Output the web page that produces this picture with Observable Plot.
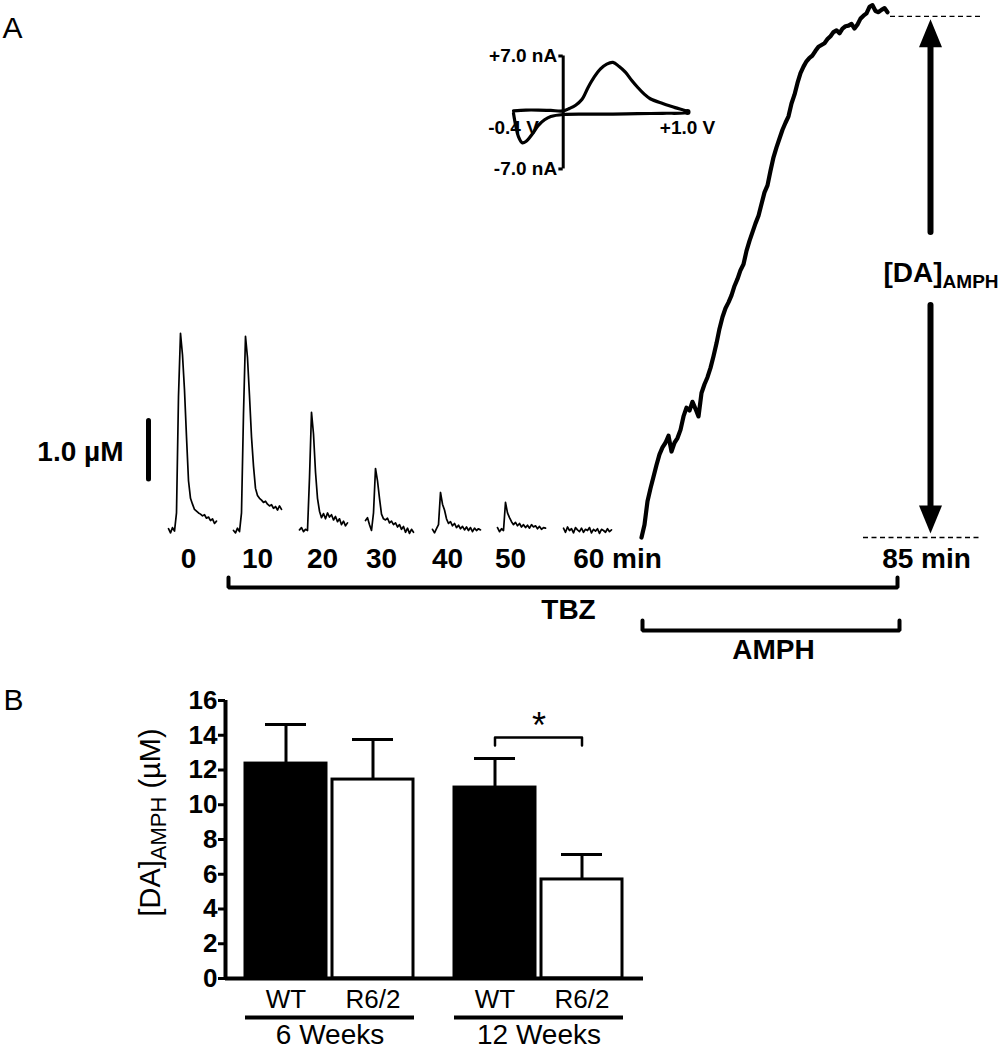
<!DOCTYPE html>
<html>
<head>
<meta charset="utf-8">
<script src="https://cdn.jsdelivr.net/npm/d3@7"></script>
<script src="https://cdn.jsdelivr.net/npm/@observablehq/plot@0.6"></script>
<style>
  html, body { margin: 0; padding: 0; background: #fff; }
  #fig { position: relative; width: 1000px; height: 1050px; overflow: hidden; background: #fff; }
  #fig svg { position: absolute; overflow: visible; max-width: none; }
</style>
</head>
<body>
<div id="fig"></div>
<script>
// ===================== DATA =====================
// Panel A: evoked DA release traces (µM) recorded at these times (min) during TBZ
const traceTimes = [0, 10, 20, 30, 40, 50, 60];
const trace0  = [0.03, -0.04, 0.05, -0.01, 0.3, 2.3, 3.37, 3.0, 2.4, 1.6, 0.85, 0.55, 0.45, 0.36, 0.33, 0.3, 0.28, 0.25, 0.27, 0.21, 0.23, 0.17, 0.2, 0.12, 0.16];
const trace10 = [0.0, -0.04, 0.04, -0.02, 0.3, 2.0, 3.32, 2.95, 2.3, 1.6, 1.1, 0.72, 0.6, 0.55, 0.52, 0.48, 0.5, 0.45, 0.42, 0.44, 0.38, 0.41, 0.35, 0.42, 0.36];
const trace20 = [0.01, 0.05, -0.02, 0.02, 0.0, 0.9, 2.02, 1.65, 1.0, 0.55, 0.33, 0.22, 0.29, 0.2, 0.3, 0.23, 0.27, 0.18, 0.24, 0.15, 0.2, 0.1, 0.16, 0.08, 0.13];
const trace30 = [0.17, 0.22, 0.1, 0.0, 0.3, 1.06, 0.85, 0.55, 0.28, 0.2, 0.18, 0.21, 0.13, 0.16, 0.1, 0.13, 0.06, 0.1, 0.02, 0.07, -0.03, 0.04, -0.05, 0.02, -0.03];
const trace40 = [0.02, -0.04, 0.03, 0.1, 0.65, 0.45, 0.35, 0.2, 0.12, 0.15, 0.08, 0.12, 0.05, 0.09, 0.03, 0.07, 0.01, 0.06, 0.0, 0.05, -0.02, 0.04, 0.0, 0.03, 0.01];
const trace50 = [0.05, -0.02, 0.03, 0.0, 0.48, 0.3, 0.22, 0.15, 0.1, 0.14, 0.08, 0.12, 0.06, 0.1, 0.05, 0.09, 0.04, 0.1, 0.06, 0.08, 0.03, 0.07, 0.02, 0.05, 0.04];
const trace60 = [0.04, -0.03, 0.06, 0.0, 0.03, -0.04, 0.05, 0.01, -0.02, 0.04, -0.03, 0.02, 0.0, 0.05, -0.04, 0.02, -0.01, 0.03, -0.05, 0.02, 0.0, -0.03, 0.03, -0.02, 0.01];
// AMPH-induced DA efflux (µM), sampled evenly from 60 to 85 min
const amphStartMin = 60, amphEndMin = 85;
const amphTrace = [-0.12, 0.1, 0.5, 0.72, 0.92, 1.12, 1.3, 1.42, 1.5, 1.62,
  1.35, 1.5, 1.58, 1.72, 1.95, 2.1, 2.05, 2.2, 2.08, 1.95,
  2.35, 2.5, 2.62, 2.78, 2.98, 3.2, 3.45, 3.65, 3.8, 3.9,
  4.02, 4.18, 4.3, 4.45, 4.55, 4.78, 4.95, 5.1, 5.25, 5.38,
  5.58, 5.78, 5.9, 6.15, 6.38, 6.55, 6.7, 6.85, 6.97, 7.08,
  7.3, 7.45, 7.65, 7.82, 7.93, 8.02, 8.08, 8.12, 8.2, 8.27,
  8.3, 8.33, 8.4, 8.45, 8.52, 8.55, 8.5, 8.58, 8.62, 8.63,
  8.66, 8.58, 8.65, 8.75, 8.8, 8.84, 8.95, 8.98, 8.88, 8.86,
  8.9, 8.93, 8.86];
const amphPlateau = 8.79;   // [DA]AMPH top level (µM)
const amphBaseline = -0.12; // [DA]AMPH bottom level (µM)
const scaleBarUM = 1.0;
const timeLabels = ["0", "10", "20", "30", "40", "50", "60 min", "85 min"];
const treatments = ["TBZ", "AMPH"];
const daLabel = "[DA]AMPH";

// Inset: cyclic voltammogram (V, nA)
const cvForwardV = [-0.4, -0.3, -0.2, -0.1, 0, 0.05, 0.1, 0.15, 0.2, 0.25, 0.3, 0.35, 0.4, 0.45, 0.5, 0.55, 0.6, 0.65, 0.7, 0.8, 0.9, 1.0];
const cvForwardI = [0.2, 0.3, 0.3, 0.25, 0.2, 0.5, 0.9, 1.6, 3.1, 4.4, 5.4, 6.0, 6.2, 5.7, 5.0, 4.0, 3.1, 2.3, 1.7, 1.1, 0.6, 0.1];
const cvReverseV = [1.0, 0.8, 0.6, 0.4, 0.2, 0, -0.1, -0.15, -0.2, -0.25, -0.3, -0.33, -0.36, -0.38, -0.4];
const cvReverseI = [0.0, -0.1, -0.15, -0.2, -0.2, -0.25, -0.5, -0.9, -1.6, -2.7, -3.6, -3.75, -3.0, -1.8, -0.1];
const cvCurrentLabels = ["+7.0 nA", "-7.0 nA"];
const cvCurrentTicks = [7, -7];
const cvPotentialLabels = ["-0.4 V", "+1.0 V"];
const cvPotentialTicks = [-0.4, 1.0];

// Panel B: [DA]AMPH (µM), mean ± SEM
const groups = ["6 Weeks", "12 Weeks"];
const genotypes = ["WT", "R6/2"];
const means = [12.37, 11.45, 10.99, 5.70];
const sems  = [2.25, 2.31, 1.67, 1.44];
const yTicksB = [0, 2, 4, 6, 8, 10, 12, 14, 16];
const yLabelB = "[DA]AMPH (µM)";
const sigGroup = "12 Weeks", sigPair = ["WT", "R6/2"], sigLevel = 13.87, sigText = "*";

// ===================== LAYOUT =====================
const FONT = '"Liberation Sans", Arial, Helvetica, sans-serif';
const fig = document.getElementById("fig");
function place(svg, left, top) {
  svg.style.left = left + "px";
  svg.style.top = top + "px";
  fig.appendChild(svg);
}
function subscriptify(svg, full, main, sub, rest, subSize, shift) {
  const ns = "http://www.w3.org/2000/svg";
  svg.querySelectorAll("text").forEach(t => {
    if (t.textContent === full) {
      t.textContent = "";
      const a = document.createElementNS(ns, "tspan"); a.textContent = main; t.appendChild(a);
      const b = document.createElementNS(ns, "tspan"); b.textContent = sub;
      b.setAttribute("font-size", subSize); b.setAttribute("dy", shift); t.appendChild(b);
      if (rest) {
        const c = document.createElementNS(ns, "tspan"); c.textContent = rest;
        c.setAttribute("dy", -shift); t.appendChild(c);
      }
    }
  });
}

// ---------- Panel A ----------
const A_H = 670, BASE_PX = 530, PX_PER_UM = 58.5;
const yA = p => (BASE_PX - p) / PX_PER_UM;     // layout pixel -> µM
const traceStartPx = [168, 233, 299, 365, 432, 497, 563];
const traceStepPx = 2;
const amphStartPx = 641, amphEndPx = 887;
const timeLabelPx = [188, 257, 322, 381, 447, 510, 617, 926];
const bracketLayout = [
  {x1: 228, x2: 897, yPx: 587, labelX: 568, labelBase: 618},
  {x1: 642, x2: 899, yPx: 630, labelX: 773, labelBase: 658}
];
const ARROW_X = 930;

const traces = [trace0, trace10, trace20, trace30, trace40, trace50, trace60];
const tracePts = traces.flatMap((vals, k) => vals.map((v, i) => ({k, t: traceTimes[k], x: traceStartPx[k] + i * traceStepPx, y: v})));
const amphPts = amphTrace.map((v, i) => {
  const t = amphStartMin + i * (amphEndMin - amphStartMin) / (amphTrace.length - 1);
  return {t, x: amphStartPx + (t - amphStartMin) / (amphEndMin - amphStartMin) * (amphEndPx - amphStartPx), y: v};
});
const bracketPts = treatments.flatMap((lab, j) => {
  const b = bracketLayout[j];
  return [[b.x1, b.yPx - 10], [b.x1, b.yPx], [b.x2, b.yPx], [b.x2, b.yPx - 10]].map(([x, p]) => ({lab, x, y: yA(p)}));
});
const headUp = {draw(ctx) { ctx.moveTo(0, 0); ctx.lineTo(11.5, 28); ctx.lineTo(-11.5, 28); ctx.closePath(); }};
const headDown = {draw(ctx) { ctx.moveTo(0, 0); ctx.lineTo(11.5, -28); ctx.lineTo(-11.5, -28); ctx.closePath(); }};

const plotA = Plot.plot({
  width: 1000, height: A_H, margin: 0,
  x: {domain: [0, 1000], range: [0, 1000], axis: null},
  y: {domain: [yA(A_H), yA(0)], range: [A_H, 0], axis: null},
  style: {fontFamily: FONT, background: "transparent", color: "#000", overflow: "visible"},
  marks: [
    Plot.text(["A"], {x: () => 2, y: () => yA(37), text: d => d, textAnchor: "start", lineAnchor: "bottom", fontSize: 30, fill: "#000"}),
    Plot.line(tracePts, {x: "x", y: "y", z: "k", stroke: "#000", strokeWidth: 1.7, strokeLinejoin: "round"}),
    Plot.line(amphPts, {x: "x", y: "y", stroke: "#000", strokeWidth: 4.2, strokeLinejoin: "round"}),
    // scale bar
    Plot.ruleX([scaleBarUM], {x: () => 148, y1: () => yA(479), y2: d => yA(479) + d, stroke: "#000", strokeWidth: 5, strokeLinecap: "round"}),
    Plot.text([scaleBarUM], {x: () => 123, y: () => yA(460), text: d => `${d.toFixed(1)} µM`, textAnchor: "end", lineAnchor: "bottom", fontSize: 28, fontWeight: "bold", fill: "#000"}),
    // time labels
    Plot.text(timeLabels, {x: (d, i) => timeLabelPx[i], y: () => yA(567), text: d => d, textAnchor: "middle", lineAnchor: "bottom", fontSize: 28, fontWeight: "bold", fill: "#000"}),
    // treatment brackets
    Plot.line(bracketPts, {x: "x", y: "y", z: "lab", stroke: "#000", strokeWidth: 4, strokeLinejoin: "miter"}),
    Plot.text(treatments, {x: (d, i) => bracketLayout[i].labelX, y: (d, i) => yA(bracketLayout[i].labelBase), text: d => d, textAnchor: "middle", lineAnchor: "bottom", fontSize: 28, fontWeight: "bold", fill: "#000"}),
    // dashed levels
    Plot.ruleY([amphPlateau, amphBaseline], {y: d => d, x1: (d, i) => [890, 863][i], x2: () => 980, stroke: "#000", strokeWidth: 1.3, strokeDasharray: "5,3.5"}),
    // double arrow
    Plot.ruleX([[yA(46), yA(232)], [yA(305), yA(506)]], {x: () => ARROW_X, y1: d => d[0], y2: d => d[1], stroke: "#000", strokeWidth: 6, strokeLinecap: "round"}),
    Plot.dot([amphPlateau], {x: () => ARROW_X, y: d => d, dy: 3, symbol: headUp, fill: "#000", stroke: "none"}),
    Plot.dot([amphBaseline], {x: () => ARROW_X, y: d => d, dy: -4, symbol: headDown, fill: "#000", stroke: "none"}),
    Plot.text([daLabel], {x: () => 883, y: () => yA(281), text: d => d, textAnchor: "start", lineAnchor: "bottom", fontSize: 28, fontWeight: "bold", fill: "#000"})
  ]
});
subscriptify(plotA, daLabel, "[DA]", "AMPH", "", 19, 6);
place(plotA, 0, 0);

// ---------- Inset CV ----------
const cvPts = cvForwardV.map((v, i) => ({v, i: cvForwardI[i]}))
  .concat(cvReverseV.map((v, i) => ({v, i: cvReverseI[i]})));
const plotCV = Plot.plot({
  width: 300, height: 150, margin: 0,
  x: {domain: [-0.987, 1.426], axis: null},
  y: {domain: [-9.67, 8.92], axis: null},
  style: {fontFamily: FONT, background: "transparent", color: "#000", overflow: "visible"},
  marks: [
    Plot.ruleX([0], {y1: cvCurrentTicks[1], y2: cvCurrentTicks[0], stroke: "#000", strokeWidth: 3}),
    Plot.ruleY(cvCurrentTicks, {x1: -0.035, x2: 0, stroke: "#000", strokeWidth: 3}),
    Plot.line(cvPts, {x: "v", y: "i", stroke: "#000", strokeWidth: 3.2, curve: "catmull-rom"}),
    Plot.dot([cvForwardV[cvForwardV.length - 1]], {x: d => d, y: () => 0.05, r: 3, fill: "#000", stroke: "none"}),
    Plot.text(cvCurrentLabels, {x: () => 0, y: (d, i) => cvCurrentTicks[i], dx: -6, text: d => d, textAnchor: "end", lineAnchor: "middle", fontSize: 19, fontWeight: "bold", fill: "#000"}),
    Plot.text(cvPotentialLabels, {x: (d, i) => cvPotentialTicks[i], y: () => -1.9, text: d => d, textAnchor: "middle", lineAnchor: "middle", fontSize: 19, fontWeight: "bold", fill: "#000"})
  ]
});
place(plotCV, 440, 40);

// ---------- Panel B ----------
const B_TOP = 670, B_H = 380;
const B_MARGINS = {marginLeft: 225, marginRight: 357, marginTop: 30, marginBottom: 72};
const bars = groups.flatMap((g, gi) => genotypes.map((ge, ji) => ({group: g, geno: ge, mean: means[gi * 2 + ji], sem: sems[gi * 2 + ji]})));
const sigPath = [
  {group: sigGroup, x: sigPair[0], y: sigLevel - 0.46},
  {group: sigGroup, x: sigPair[0], y: sigLevel},
  {group: sigGroup, x: sigPair[1], y: sigLevel},
  {group: sigGroup, x: sigPair[1], y: sigLevel - 0.46}
];

const plotB = Plot.plot({
  width: 1000, height: B_H, ...B_MARGINS,
  fx: {domain: groups, paddingInner: 0.19, paddingOuter: 0.095, axis: null, label: null},
  x: {domain: genotypes, paddingInner: 0.0686, paddingOuter: 0, axis: null},
  y: {domain: [0, 16], axis: null},
  color: {type: "identity"},
  style: {fontFamily: FONT, background: "transparent", color: "#000", overflow: "visible"},
  marks: [
    Plot.barY(bars, {fx: "group", x: "geno", y: "mean", fill: d => d.geno === "WT" ? "#000" : "#fff", stroke: "#000", strokeWidth: 3}),
    Plot.ruleX(bars, {fx: "group", x: "geno", y1: "mean", y2: d => d.mean + d.sem, stroke: "#000", strokeWidth: 3}),
    Plot.tickY(bars, {fx: "group", x: "geno", y: d => d.mean + d.sem, stroke: "#000", strokeWidth: 3, insetLeft: 20, insetRight: 20}),
    Plot.line(sigPath, {fx: "group", x: "x", y: "y", stroke: "#000", strokeWidth: 2.5}),
    Plot.text([{group: sigGroup, t: sigText}], {fx: "group", y: () => sigLevel - 0.05, text: "t", textAnchor: "middle", lineAnchor: "bottom", fontSize: 36, fill: "#000"}),
    Plot.text(bars, {fx: "group", x: "geno", text: "geno", frameAnchor: "bottom", dy: 29, textAnchor: "middle", lineAnchor: "bottom", fontSize: 26, fill: "#000"}),
    Plot.ruleY(groups, {fx: d => d, y: () => 0, dy: 39, stroke: "#000", strokeWidth: 4}),
    Plot.text(groups, {fx: d => d, text: d => d, frameAnchor: "bottom", dy: 65, textAnchor: "middle", lineAnchor: "bottom", fontSize: 28, fill: "#000"})
  ]
});
place(plotB, 0, B_TOP);

const plotBAxes = Plot.plot({
  width: 1000, height: B_H, ...B_MARGINS,
  x: {domain: [0, 1], axis: null},
  y: {domain: [0, 16], axis: null},
  style: {fontFamily: FONT, background: "transparent", color: "#000", overflow: "visible"},
  marks: [
    Plot.ruleY([0], {x1: 0, x2: 1, stroke: "#000", strokeWidth: 4}),
    Plot.ruleX([0], {y1: 0, y2: 16, stroke: "#000", strokeWidth: 4}),
    Plot.axisY(yTicksB, {anchor: "left", tickSize: 7, tickPadding: 1, strokeWidth: 3, fontSize: 26, fontWeight: "bold", label: null, tickFormat: d => String(d)}),
    Plot.text([yLabelB], {frameAnchor: "left", dx: -75, dy: -17, rotate: -90, text: d => d, textAnchor: "middle", lineAnchor: "middle", fontSize: 29, fill: "#000"}),
    Plot.text(["B"], {frameAnchor: "top-left", dx: -222, dy: 9, text: d => d, textAnchor: "start", lineAnchor: "bottom", fontSize: 30, fill: "#000"})
  ]
});
subscriptify(plotBAxes, yLabelB, "[DA]", "AMPH", " (µM)", 22, 6);
place(plotBAxes, 0, B_TOP);
</script>
</body>
</html>
